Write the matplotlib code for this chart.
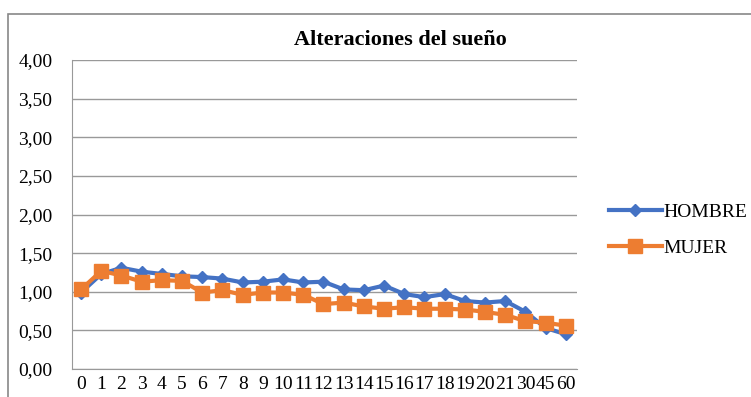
import matplotlib
matplotlib.use('Agg')
import matplotlib.pyplot as plt
from matplotlib.patches import Rectangle

edades = ['0','1','2','3','4','5','6','7','8','9','10','11','12','13','14','15','16','17','18','19','20','21','30','45','60']
hombre = [0.99,1.23,1.31,1.26,1.23,1.20,1.19,1.17,1.12,1.13,1.16,1.12,1.13,1.03,1.02,1.08,0.97,0.93,0.97,0.88,0.86,0.88,0.74,0.53,0.45]
mujer = [1.03,1.27,1.21,1.13,1.15,1.14,0.99,1.02,0.96,0.99,0.99,0.96,0.84,0.86,0.81,0.78,0.80,0.78,0.78,0.77,0.74,0.70,0.62,0.60,0.56]
yticks = [0, 0.5, 1.0, 1.5, 2.0, 2.5, 3.0, 3.5, 4.0]

plt.rcParams['font.family'] = 'Liberation Serif'
azul = '#4472C4'
naranja = '#ED7D31'

fig = plt.figure(figsize=(7.51, 3.97), dpi=100)
# marco exterior del gráfico
fig.patches.append(Rectangle((8/751, -0.05), 1.2, 1 - 14/397 + 0.05, transform=fig.transFigure,
                             fill=False, edgecolor='#888888', linewidth=1.2))

ax = fig.add_axes([72/751, 1 - 369/397, 505/751, 309/397])
x = list(range(len(edades)))
ax.plot(x, hombre, color=azul, lw=3, marker='D', ms=6.5, label='HOMBRE', zorder=3)
ax.plot(x, mujer, color=naranja, lw=3, marker='s', ms=9.5, label='MUJER', zorder=3)

ax.set_xlim(-0.45, 24.55)
ax.set_ylim(0, 4)
ax.set_yticks(yticks)
ax.set_yticklabels([('%.2f' % v).replace('.', ',') for v in yticks], fontsize=14)
ax.set_xticks(x)
ax.set_xticklabels(edades, fontsize=14)
ax.tick_params(axis='x', length=0, pad=5)
ax.tick_params(axis='y', length=0, pad=14)
ax.grid(axis='y', color='#999999', lw=1)
ax.set_axisbelow(True)
for s in ['top', 'right']:
    ax.spines[s].set_visible(False)
for s in ['left', 'bottom']:
    ax.spines[s].set_color('#999999')

fig.text(400/751, 1 - 40/397, 'Alteraciones del sueño', ha='center', va='center',
         fontsize=16, fontweight='bold')

fig.legend(loc='center left', bbox_to_anchor=(591/751, 1 - 230/397), frameon=False,
           fontsize=14, handlelength=2.75, labelspacing=0.95, handletextpad=0.05)

fig.savefig('out.png', dpi=100)
